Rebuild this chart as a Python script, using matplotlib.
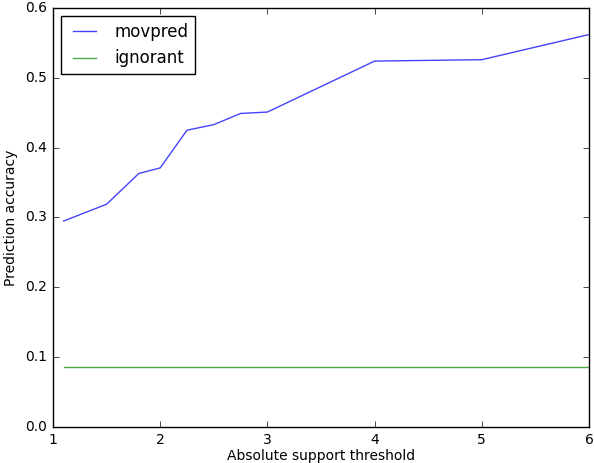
import matplotlib
matplotlib.use("Agg")
import matplotlib.pyplot as plt

plt.style.use("classic")

# support thresholds and accuracies
threshold = [1.1, 1.5, 1.8, 2.0, 2.25, 2.5, 2.75, 3.0, 4.0, 5.0, 6.0]
movpred = [0.295, 0.319, 0.363, 0.371, 0.425, 0.433, 0.449, 0.451, 0.524, 0.526, 0.562]
ignorant = [0.086] * len(threshold)

fig = plt.figure(figsize=(5.94, 4.63), dpi=100)
ax = fig.add_axes([0.0892, 0.0778, 0.9024, 0.9049])

ax.plot(threshold, movpred, color="#4444ff", linewidth=1, label="movpred")
ax.plot(threshold, ignorant, color="#4aa84a", linewidth=1, label="ignorant")

ax.set_xlim(1, 6)
ax.set_ylim(0, 0.6)
ax.set_xlabel("Absolute support threshold", fontsize=10, labelpad=2)
ax.set_ylabel("Prediction accuracy", fontsize=10)
ax.tick_params(labelsize=10)
ax.legend(loc="upper left", fontsize=12)

fig.savefig("out.png", dpi=100)
